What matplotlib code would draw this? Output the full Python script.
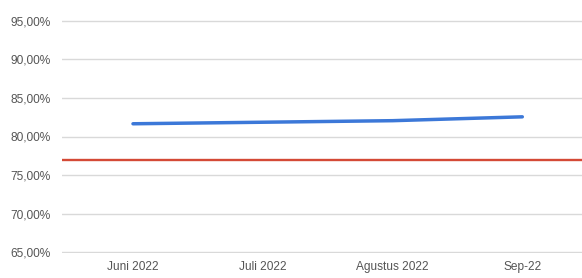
import matplotlib.pyplot as plt
from matplotlib.ticker import FuncFormatter

plt.rcParams['font.family'] = ['Liberation Sans', 'DejaVu Sans']

# data
bulan = ['Juni 2022', 'Juli 2022', 'Agustus 2022', 'Sep-22']
capaian = [81.65, 81.85, 82.05, 82.55]
target = 77.0
y_ticks = [65, 70, 75, 80, 85, 90, 95]

fig = plt.figure(figsize=(5.82, 2.78), dpi=100)
ax = fig.add_axes([62 / 582, 25 / 278, 520 / 582, 233 / 278])

x = list(range(len(bulan)))
ax.axhline(target, color='#d44a36', lw=1.7, zorder=3)
ax.plot(x, capaian, color='#3c78d8', lw=2.5, solid_capstyle='round', zorder=4)

ax.set_ylim(64.9, 95.1)
ax.set_xlim(-0.547, 3.46)
ax.set_yticks(y_ticks)
ax.yaxis.set_major_formatter(FuncFormatter(lambda v, p: f'{v:.2f}%'.replace('.', ',')))
ax.set_xticks(x)
ax.set_xticklabels(bulan)
ax.grid(axis='y', color='#d9d9d9', lw=1.0)
ax.set_axisbelow(True)
for s in ax.spines.values():
    s.set_visible(False)
ax.tick_params(length=0, labelsize=8.6, colors='#555555', pad=8)
ax.tick_params(axis='x', pad=6)

fig.savefig('out.png', dpi=100)
